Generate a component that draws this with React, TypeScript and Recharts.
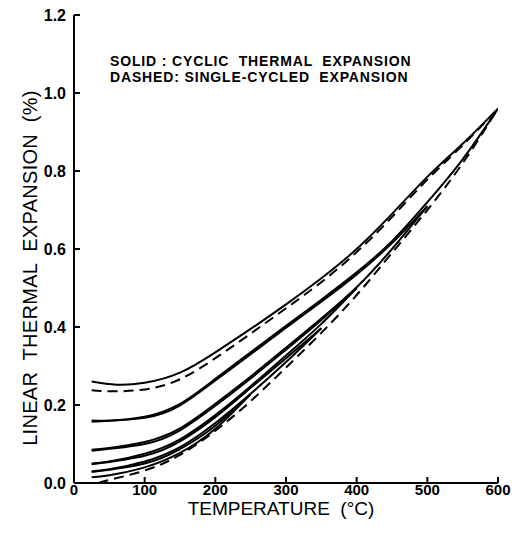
import React from 'react';
import { LineChart, Line, XAxis, YAxis } from 'recharts';

// temperature ticks and expansion ticks
const tempTicks = [0, 100, 200, 300, 400, 500, 600];
const expTicks = [0, 0.2, 0.4, 0.6, 0.8, 1.0, 1.2];

// cyclic runs (solid) – heating and cooling branches
const cool600 = [
  { t: 25, v: 0.26 }, { t: 60, v: 0.252 }, { t: 100, v: 0.257 }, { t: 150, v: 0.283 },
  { t: 200, v: 0.335 }, { t: 250, v: 0.395 }, { t: 300, v: 0.458 }, { t: 350, v: 0.525 },
  { t: 400, v: 0.6 }, { t: 450, v: 0.69 }, { t: 500, v: 0.785 }, { t: 550, v: 0.87 }, { t: 600, v: 0.96 },
];
const heat600 = [
  { t: 25, v: 0.16 }, { t: 50, v: 0.16 }, { t: 100, v: 0.17 }, { t: 150, v: 0.203 },
  { t: 200, v: 0.267 }, { t: 250, v: 0.335 }, { t: 300, v: 0.403 }, { t: 350, v: 0.47 },
  { t: 400, v: 0.54 }, { t: 450, v: 0.62 }, { t: 500, v: 0.72 }, { t: 550, v: 0.83 }, { t: 600, v: 0.96 },
];
const cool500 = [
  { t: 25, v: 0.157 }, { t: 100, v: 0.167 }, { t: 150, v: 0.199 }, { t: 200, v: 0.263 },
  { t: 250, v: 0.33 }, { t: 300, v: 0.398 }, { t: 350, v: 0.465 }, { t: 400, v: 0.535 },
  { t: 450, v: 0.615 }, { t: 500, v: 0.71 },
];
const heat500 = [
  { t: 25, v: 0.085 }, { t: 50, v: 0.09 }, { t: 100, v: 0.105 }, { t: 150, v: 0.14 },
  { t: 200, v: 0.203 }, { t: 250, v: 0.273 }, { t: 300, v: 0.347 }, { t: 350, v: 0.422 },
  { t: 400, v: 0.502 }, { t: 450, v: 0.6 }, { t: 500, v: 0.71 },
];
const cool400 = [
  { t: 25, v: 0.083 }, { t: 100, v: 0.1 }, { t: 150, v: 0.135 }, { t: 200, v: 0.198 },
  { t: 250, v: 0.268 }, { t: 300, v: 0.342 }, { t: 350, v: 0.418 }, { t: 400, v: 0.5 },
];
const heat400 = [
  { t: 25, v: 0.05 }, { t: 50, v: 0.055 }, { t: 100, v: 0.075 }, { t: 150, v: 0.112 },
  { t: 200, v: 0.174 }, { t: 250, v: 0.248 }, { t: 300, v: 0.327 }, { t: 350, v: 0.408 }, { t: 400, v: 0.5 },
];
const cool350 = [
  { t: 25, v: 0.048 }, { t: 100, v: 0.07 }, { t: 150, v: 0.107 }, { t: 200, v: 0.169 },
  { t: 250, v: 0.244 }, { t: 300, v: 0.32 }, { t: 350, v: 0.397 },
];
const heat350 = [
  { t: 25, v: 0.03 }, { t: 50, v: 0.035 }, { t: 100, v: 0.055 }, { t: 150, v: 0.092 },
  { t: 200, v: 0.154 }, { t: 250, v: 0.229 }, { t: 300, v: 0.31 }, { t: 350, v: 0.397 },
];
const cool250 = [
  { t: 25, v: 0.028 }, { t: 100, v: 0.05 }, { t: 150, v: 0.087 }, { t: 200, v: 0.147 }, { t: 250, v: 0.228 },
];
const heat250 = [
  { t: 25, v: 0.015 }, { t: 50, v: 0.02 }, { t: 100, v: 0.04 }, { t: 150, v: 0.077 },
  { t: 200, v: 0.139 }, { t: 250, v: 0.228 },
];

// single-cycled run (dashed)
const singleHeat = [
  { t: 35, v: 0.0 }, { t: 50, v: 0.008 }, { t: 100, v: 0.032 }, { t: 150, v: 0.072 },
  { t: 200, v: 0.134 }, { t: 250, v: 0.21 }, { t: 300, v: 0.296 }, { t: 350, v: 0.385 },
  { t: 400, v: 0.482 }, { t: 450, v: 0.59 }, { t: 500, v: 0.7 }, { t: 550, v: 0.82 }, { t: 600, v: 0.96 },
];
const singleCool = [
  { t: 25, v: 0.238 }, { t: 50, v: 0.235 }, { t: 100, v: 0.24 }, { t: 150, v: 0.266 },
  { t: 200, v: 0.32 }, { t: 250, v: 0.383 }, { t: 300, v: 0.448 }, { t: 350, v: 0.515 },
  { t: 400, v: 0.592 }, { t: 450, v: 0.682 }, { t: 500, v: 0.778 }, { t: 550, v: 0.866 }, { t: 600, v: 0.96 },
];

const solidRuns = [cool600, heat600, cool500, heat500, cool400, heat400, cool350, heat350, cool250, heat250];
const dashedRuns = [singleHeat, singleCool];

const font = '"Liberation Sans", Arial, sans-serif';

const App: React.FC = () => {
  return (
    <div style={{ position: 'absolute', left: 0, top: 0, width: 524, height: 549, background: '#fff', fontFamily: font }}>
      <LineChart width={524} height={549} margin={{ top: 15, right: 26, bottom: 0, left: 0 }}>
        <XAxis
          type="number"
          dataKey="t"
          domain={[0, 600]}
          ticks={tempTicks}
          allowDataOverflow
          height={66}
          stroke="#000"
          strokeWidth={2}
          tickSize={-6}
          tickMargin={7}
          tick={{ fill: '#000', fontSize: 15, fontWeight: 'bold', fontFamily: font }}
        />
        <YAxis
          type="number"
          dataKey="v"
          domain={[0, 1.2]}
          ticks={expTicks}
          allowDataOverflow
          width={74}
          stroke="#000"
          strokeWidth={2}
          tickSize={-6}
          tickMargin={14}
          tickFormatter={(val: number) => val.toFixed(1)}
          tick={{ fill: '#000', fontSize: 16, fontWeight: 'bold', fontFamily: font }}
        />
        {solidRuns.map((run, i) => (
          <Line
            key={'s' + i}
            data={run}
            dataKey="v"
            type="natural"
            stroke="#000"
            strokeWidth={2}
            dot={false}
            isAnimationActive={false}
          />
        ))}
        {dashedRuns.map((run, i) => (
          <Line
            key={'d' + i}
            data={run}
            dataKey="v"
            type="natural"
            stroke="#000"
            strokeWidth={2}
            strokeDasharray="10 6"
            dot={false}
            isAnimationActive={false}
          />
        ))}
      </LineChart>

      <div style={{ position: 'absolute', left: 110, top: 53, fontSize: 14, letterSpacing: 0.85, fontWeight: 'bold', lineHeight: '16px', whiteSpace: 'pre', color: '#000' }}>
        <div>SOLID : CYCLIC  THERMAL  EXPANSION</div>
        <div>DASHED: SINGLE-CYCLED  EXPANSION</div>
      </div>

      <div
        style={{
          position: 'absolute', left: 30, top: 268, fontSize: 20, letterSpacing: 0.3, whiteSpace: 'pre', color: '#000',
          transform: 'translate(-50%, -50%) rotate(-90deg)',
        }}
      >
        LINEAR  THERMAL  EXPANSION  (%)
      </div>

      <div
        style={{
          position: 'absolute', left: 281, top: 509, fontSize: 19, whiteSpace: 'pre', color: '#000',
          transform: 'translate(-50%, -50%)',
        }}
      >
        TEMPERATURE  (°C)
      </div>
    </div>
  );
};

export default App;
